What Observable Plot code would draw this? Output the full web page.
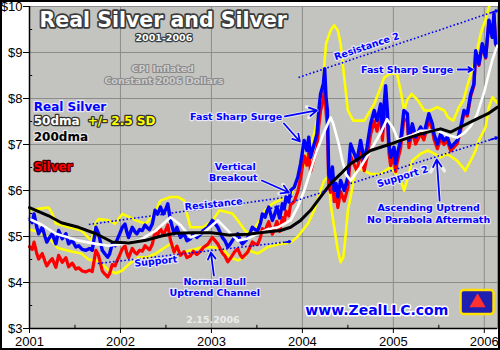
<!DOCTYPE html>
<html><head><meta charset="utf-8">
<script src="https://cdn.jsdelivr.net/npm/d3@7"></script>
<script src="https://cdn.jsdelivr.net/npm/@observablehq/plot@0.6"></script>
<style>
body{margin:0;background:#fff;}
#wrap{position:relative;width:500px;height:350px;overflow:hidden;}
#border{position:absolute;left:0;top:0;width:500px;height:350px;box-sizing:border-box;border:2px solid #000;pointer-events:none;}
</style></head><body>
<div id="wrap"><div id="chart"></div><div id="border"></div></div>
<script>
// ---- ticks ----
const years = [2001, 2002, 2003, 2004, 2005, 2006];
const midYears = [2001.5, 2002.5, 2003.5, 2004.5, 2005.5];
const dollars = [3, 4, 5, 6, 7, 8, 9, 10];
const halfDollars = [3.5, 4.5, 5.5, 6.5, 7.5, 8.5, 9.5];

// ---- daily-ish series (decimal years) ----
const dates = [2001.00,2001.03,2001.05,2001.08,2001.10,2001.14,2001.17,2001.19,2001.22,2001.25,2001.29,2001.32,2001.36,2001.40,2001.43,2001.47,2001.51,2001.54,2001.58,2001.62,2001.66,2001.69,2001.71,2001.73,2001.76,2001.80,2001.83,2001.86,2001.88,2001.91,2001.94,2001.96,2001.99,
2002.02,2002.05,2002.07,2002.09,2002.13,2002.16,2002.18,2002.21,2002.24,2002.27,2002.29,2002.32,2002.35,2002.38,2002.41,2002.44,2002.47,2002.50,2002.52,2002.55,2002.59,2002.62,2002.66,2002.70,2002.73,2002.77,2002.80,2002.84,2002.88,2002.91,2002.96,
2003.01,2003.04,2003.07,2003.12,2003.15,2003.18,2003.21,2003.23,2003.26,2003.29,2003.32,2003.34,2003.38,2003.40,2003.43,2003.45,2003.48,2003.51,2003.54,2003.56,2003.59,2003.61,2003.63,2003.67,2003.69,2003.72,2003.75,2003.78,2003.80,2003.82,2003.85,2003.87,2003.91,2003.95,2003.98,
2004.02,2004.05,2004.07,2004.09,2004.13,2004.16,2004.18,2004.20,2004.23,2004.245,2004.26,2004.275,2004.29,2004.31,2004.33,2004.35,2004.37,2004.39,2004.42,2004.46,2004.50,2004.53,2004.57,2004.60,2004.64,2004.68,2004.71,2004.75,2004.79,2004.82,2004.86,2004.88,2004.90,2004.915,2004.934,2004.952,2004.97,
2005.007,2005.025,2005.044,2005.08,2005.116,2005.154,2005.171,2005.209,2005.245,2005.30,2005.336,2005.391,2005.429,2005.446,2005.484,2005.52,2005.556,2005.593,2005.63,2005.666,2005.703,2005.74,2005.776,2005.813,2005.85,2005.886,2005.905,2005.941,2005.978,2006.015,2006.051,2006.088,2006.106,2006.124,2006.143];

const realSilver = [5.38,5.30,5.49,5.20,5.06,5.20,5.00,4.88,4.98,5.06,4.84,5.13,4.95,5.06,4.84,4.92,4.77,4.80,4.72,4.70,4.74,4.70,4.95,5.20,5.06,4.70,4.62,4.55,4.62,4.84,4.80,4.91,5.05,
5.20,5.27,5.10,4.98,5.20,5.10,5.06,5.15,5.13,5.25,5.20,5.15,5.27,5.57,5.49,5.64,5.49,5.60,5.71,5.35,5.06,5.20,4.98,5.06,4.91,4.95,5.06,4.98,5.05,5.13,5.20,
5.35,5.28,5.20,4.98,4.90,4.77,4.85,4.91,5.00,5.06,4.90,4.84,4.92,4.98,5.10,5.20,5.15,5.13,5.30,5.49,5.42,5.55,5.64,5.35,5.45,5.64,5.40,5.71,5.60,5.86,5.75,6.00,6.07,6.29,6.58,
7.09,6.87,7.16,6.72,7.01,7.23,7.74,8.10,8.32,8.65,8.03,7.74,6.36,6.22,6.51,6.00,6.15,5.86,6.22,6.00,6.29,7.01,6.80,6.65,7.09,6.65,6.94,7.45,7.74,7.52,7.88,7.30,7.90,8.28,7.74,7.01,6.72,
6.94,6.58,6.80,7.09,7.74,7.67,7.09,7.45,7.16,7.38,7.23,7.67,7.45,7.23,7.01,7.23,7.09,7.16,6.94,7.01,7.09,7.38,7.74,7.67,8.10,8.32,9.04,8.75,9.19,8.90,9.70,9.33,9.84,9.19,9.12];

const silver = [4.78,4.72,4.88,4.63,4.51,4.63,4.46,4.36,4.45,4.52,4.33,4.59,4.44,4.54,4.34,4.42,4.29,4.32,4.25,4.23,4.27,4.24,4.47,4.70,4.58,4.25,4.18,4.12,4.19,4.39,4.36,4.46,4.59,
4.73,4.80,4.64,4.54,4.74,4.65,4.62,4.70,4.68,4.80,4.76,4.71,4.83,5.11,5.04,5.17,5.04,5.15,5.25,4.92,4.66,4.79,4.59,4.67,4.54,4.58,4.68,4.61,4.68,4.76,4.83,
4.98,4.91,4.84,4.64,4.57,4.45,4.53,4.59,4.68,4.73,4.59,4.54,4.62,4.67,4.79,4.88,4.84,4.83,4.99,5.17,5.11,5.23,5.32,5.05,5.15,5.33,5.11,5.41,5.30,5.55,5.45,5.69,5.76,5.98,6.26,
6.75,6.55,6.83,6.41,6.70,6.91,7.40,7.74,7.96,8.28,7.69,7.41,6.10,5.96,6.25,5.76,5.91,5.63,5.98,5.77,6.06,6.75,6.56,6.42,6.85,6.43,6.72,7.22,7.51,7.29,7.65,7.09,7.68,8.05,7.53,6.82,6.54,
6.76,6.41,6.63,6.92,7.56,7.50,6.93,7.29,7.01,7.24,7.10,7.54,7.33,7.12,6.91,7.13,7.00,7.08,6.86,6.94,7.02,7.31,7.68,7.62,8.05,8.28,9.00,8.72,9.16,8.88,9.69,9.33,9.84,9.19,9.12];

// ---- 50-day moving average of Real Silver ----
const ma50Dates = [2001.00,2001.14,2001.29,2001.43,2001.54,2001.73,2001.87,2002.02,2002.20,2002.39,2002.55,2002.66,2002.77,2002.92,2003.07,2003.17,2003.29,2003.39,2003.51,2003.61,2003.73,2003.87,2003.95,2004.02,2004.09,2004.16,2004.23,2004.31,2004.34,2004.40,2004.44,2004.48,2004.53,2004.64,2004.75,2004.86,2004.93,2005.00,2005.05,2005.20,2005.30,2005.49,2005.60,2005.70,2005.78,2005.85,2005.92,2006.00,2006.05,2006.09,2006.143];
const ma50 = [5.38,5.25,5.06,4.98,4.91,4.84,4.80,4.84,4.91,5.13,5.42,5.25,4.98,5.10,5.35,5.15,4.91,4.95,5.06,5.15,5.20,5.35,5.65,6.00,6.43,6.87,7.23,7.59,7.45,7.01,6.65,6.35,6.22,6.51,6.87,7.25,7.55,7.35,7.10,7.20,7.30,7.30,7.20,7.15,7.25,7.40,7.65,8.15,8.55,8.85,9.15];

// ---- 200-day moving average ----
const ma200Dates = [2001.00,2001.21,2001.35,2001.54,2001.73,2001.91,2002.09,2002.28,2002.45,2002.60,2002.80,2003.00,2003.20,2003.40,2003.60,2003.76,2003.87,2003.98,2004.09,2004.20,2004.31,2004.42,2004.53,2004.64,2004.75,2004.86,2004.97,2005.08,2005.30,2005.52,2005.63,2005.74,2005.88,2006.04,2006.143];
const ma200 = [5.63,5.45,5.30,5.20,5.06,4.88,4.86,4.92,5.01,5.07,5.08,5.08,5.03,5.05,5.10,5.13,5.20,5.35,5.57,5.86,6.15,6.36,6.58,6.72,6.87,6.94,7.01,7.09,7.23,7.34,7.27,7.38,7.52,7.67,7.81];

// ---- 50dma +/- 2.5 SD bands ----
const bandHiDates = [2001.00,2001.10,2001.21,2001.25,2001.29,2001.43,2001.57,2001.68,2001.725,2001.76,2001.87,2001.94,2002.02,2002.10,2002.17,2002.28,2002.37,2002.44,2002.55,2002.63,2002.70,2002.74,2002.77,2002.91,2003.01,2003.09,2003.23,2003.29,2003.37,2003.43,2003.51,2003.59,2003.67,2003.74,2003.87,2003.98,2004.06,2004.13,2004.18,2004.23,2004.26,2004.31,2004.35,2004.39,2004.42,2004.46,2004.50,2004.56,2004.62,2004.68,2004.79,2004.86,2004.90,2004.97,2005.04,2005.08,2005.12,2005.15,2005.20,2005.27,2005.34,2005.41,2005.48,2005.56,2005.60,2005.66,2005.72,2005.77,2005.82,2005.88,2005.92,2005.96,2006.01,2006.05,2006.09,2006.143];
const bandHi = [5.57,5.60,5.63,5.50,5.28,5.20,5.13,4.91,5.28,5.38,5.35,5.28,5.49,5.42,5.35,5.28,5.49,5.78,5.86,5.86,5.78,5.42,5.20,5.20,5.35,5.57,5.50,5.35,5.13,5.06,5.28,5.57,5.71,5.78,5.90,6.36,6.80,7.23,7.74,8.46,9.19,9.48,9.59,9.48,9.19,8.46,7.74,7.52,7.52,7.52,7.88,8.24,8.46,8.54,8.54,8.17,7.74,7.96,8.10,7.96,7.74,7.74,7.81,7.74,7.59,7.52,7.81,7.96,8.32,8.68,9.04,9.41,9.70,9.98,10.20,10.10];
const bandLoDates = [2001.00,2001.10,2001.21,2001.31,2001.45,2001.57,2001.65,2001.73,2001.80,2001.88,2001.95,2002.02,2002.10,2002.20,2002.30,2002.39,2002.44,2002.55,2002.66,2002.77,2002.91,2003.02,2003.13,2003.21,2003.29,2003.36,2003.40,2003.51,2003.62,2003.76,2003.87,2003.95,2004.06,2004.13,2004.20,2004.24,2004.28,2004.295,2004.31,2004.35,2004.39,2004.42,2004.45,2004.47,2004.50,2004.53,2004.57,2004.60,2004.68,2004.75,2004.86,2004.97,2005.08,2005.12,2005.17,2005.21,2005.30,2005.38,2005.45,2005.52,2005.59,2005.70,2005.76,2005.79,2005.85,2005.905,2005.94,2006.015,2006.05,2006.09,2006.12,2006.143];
const bandLo = [5.15,5.10,4.98,4.75,4.68,4.63,4.50,4.48,4.40,4.25,4.20,4.26,4.41,4.55,4.55,4.63,4.70,4.84,4.63,4.70,4.77,4.77,4.70,4.55,4.48,4.55,4.70,4.63,4.77,4.84,4.87,5.00,5.28,5.57,6.00,6.22,6.29,6.15,5.71,5.20,4.70,4.44,4.55,4.91,5.57,5.86,6.29,6.51,6.43,6.36,6.36,6.51,6.22,6.00,6.36,6.65,6.80,6.87,6.80,6.72,6.80,6.65,6.51,6.43,6.65,6.87,7.09,7.38,7.81,8.03,7.96,7.90];

// ---- texts ----
const titleText = [{text: "Real Silver and Silver", x: 2002.47, y: 9.70}];
const subTitle = [{text: "2001-2006", x: 2002.477, y: 9.315}];
const cpiText = [{text: "CPI Inflated", x: 2002.465, y: 8.64}, {text: "Constant 2006 Dollars", x: 2002.477, y: 8.385}];
const legendBlue = [{text: "Real Silver", x: 2001.047, y: 7.81}];
const legendWhite = [{text: "50dma", x: 2001.047, y: 7.50}];
const legendYellow = [{text: "+/- 2.5 SD", x: 2001.64, y: 7.50}];
const legendBlack = [{text: "200dma", x: 2001.047, y: 7.16}];
const legendRed = [{text: "Silver", x: 2001.047, y: 6.507}];
const notes = [
  {text: "Fast Sharp Surge", x: 2003.272, y: 7.609, rotate: 0},
  {text: "Vertical", x: 2003.262, y: 6.522, rotate: 0},
  {text: "Breakout", x: 2003.24, y: 6.272, rotate: 0},
  {text: "Resistance", x: 2003.025, y: 5.70, rotate: -6},
  {text: "Support", x: 2002.389, y: 4.457, rotate: -6},
  {text: "Normal Bull", x: 2003.036, y: 4.022, rotate: 0},
  {text: "Uptrend Channel", x: 2003.036, y: 3.772, rotate: 0},
  {text: "Resistance 2", x: 2004.709, y: 9.13, rotate: -18.6},
  {text: "Fast Sharp Surge", x: 2005.151, y: 8.63, rotate: 0},
  {text: "Support 2", x: 2005.102, y: 6.304, rotate: -17},
  {text: "Ascending Uptrend", x: 2005.388, y: 5.62, rotate: 0},
  {text: "No Parabola Aftermath", x: 2005.388, y: 5.37, rotate: 0}
];
const urlText = [{text: "www.ZealLLC.com", x: 2004.818, y: 3.391}];
const dateText = [{text: "2.15.2006", x: 2003.016, y: 3.196}];

const arrows = [
  {x1: 2003.809, y1: 7.609, x2: 2004.159, y2: 7.74},
  {x1: 2003.797, y1: 7.457, x2: 2003.973, y2: 7.065},
  {x1: 2003.555, y1: 6.217, x2: 2003.851, y2: 5.957},
  {x1: 2003.027, y1: 4.152, x2: 2002.994, y2: 4.652},
  {x1: 2005.707, y1: 8.63, x2: 2005.872, y2: 8.63},
  {x1: 2005.509, y1: 5.783, x2: 2005.477, y2: 6.674}
];
const trendLines = [
  {name: "Resistance", x1: 2001.652, y1: 5.261, x2: 2003.883, y2: 5.87},
  {name: "Support", x1: 2001.751, y1: 4.413, x2: 2003.871, y2: 4.891},
  {name: "Resistance 2", x1: 2003.958, y1: 8.457, x2: 2006.145, y2: 9.913},
  {name: "Support 2", x1: 2003.652, y1: 5.609, x2: 2006.145, y2: 7.152}
];
const logo = [{x1: 2005.744, x2: 2006.107, y1: 3.304, y2: 3.826}];

// ---- styling helpers ----
const BLUE = "#0000ff", RED = "#ff0000", YELLOW = "#ffff00";
const FONT = "DejaVu Sans, Verdana, sans-serif";
const series = (xs, ys, stroke, w, extra = {}) =>
  Plot.line(ys, {x: xs, y: ys, stroke, strokeWidth: w, strokeLinejoin: "round", strokeLinecap: "round", ...extra});
const txt = (data, o) => Plot.text(data, {x: "x", y: "y", text: "text", fontFamily: FONT, fontWeight: "bold",
  paintOrder: "stroke", strokeLinejoin: "round", ...o});
const tail = (d, f) => ({x1: d.x1 + (d.x2 - d.x1) * f, y1: d.y1 + (d.y2 - d.y1) * f, x2: d.x2, y2: d.y2});

const chart = Plot.plot({
  width: 500, height: 350,
  marginLeft: 29, marginRight: 3, marginTop: 6, marginBottom: 22,
  x: {domain: [2001, 2006.145]},
  y: {domain: [3, 10]},
  style: {background: "white", fontFamily: "Liberation Sans, Arial, sans-serif", fontSize: "13px", color: "black"},
  marks: [
    Plot.frame({fill: "#c3c3bf", stroke: "#8c8c8c"}),
    Plot.ruleX(years.slice(1), {stroke: "#8c8c8c", strokeWidth: 1}),
    Plot.ruleY(dollars, {stroke: "#8c8c8c", strokeWidth: 1}),
    // lines
    series(bandHiDates, bandHi, YELLOW, 2.6, {clip: true}),
    series(bandLoDates, bandLo, YELLOW, 2.6, {clip: true}),
    series(dates, silver, RED, 3.2),
    series(dates, realSilver, BLUE, 3.4),
    series(ma50Dates, ma50, "white", 2.6),
    series(ma200Dates, ma200, "black", 3),
    // trend lines
    Plot.link(trendLines, {x1: "x1", y1: "y1", x2: "x2", y2: "y2", stroke: BLUE, strokeWidth: 1.6, strokeDasharray: "1.6,2.2"}),
    Plot.arrow(trendLines.map(d => tail(d, 0.97)), {x1: "x1", y1: "y1", x2: "x2", y2: "y2", stroke: BLUE, strokeWidth: 1.6, headLength: 6}),
    Plot.arrow(arrows, {x1: "x1", y1: "y1", x2: "x2", y2: "y2", stroke: "white", strokeWidth: 3.5, headLength: 7, strokeOpacity: 0.7}),
    Plot.arrow(arrows, {x1: "x1", y1: "y1", x2: "x2", y2: "y2", stroke: BLUE, strokeWidth: 1.8, headLength: 7}),
    // titles
    txt(titleText, {fontSize: 20.5, fill: "white", stroke: "#3a3a3a", strokeWidth: 3.4}),
    txt(subTitle, {fontSize: 9.5, fill: "white", stroke: "#3a3a3a", strokeWidth: 2.4}),
    txt(cpiText, {fontSize: 9.5, fill: "#cfcfcf", stroke: "#8a8a8a", strokeWidth: 2.2}),
    // legend
    txt(legendBlue, {fontSize: 12, textAnchor: "start", fill: BLUE, stroke: "#e6e6f5", strokeWidth: 2.5}),
    txt(legendWhite, {fontSize: 12, textAnchor: "start", fill: "white", stroke: "#333", strokeWidth: 2.5}),
    txt(legendYellow, {fontSize: 12, textAnchor: "start", fill: YELLOW, stroke: "#333", strokeWidth: 2.5}),
    txt(legendBlack, {fontSize: 12, textAnchor: "start", fill: "black", stroke: "#e6e6e6", strokeWidth: 2.5}),
    txt(legendRed, {fontSize: 12, textAnchor: "start", fill: RED, stroke: "#3a0000", strokeWidth: 2.5}),
    // annotations
    txt(notes, {fontSize: 9.5, rotate: "rotate", fill: BLUE, stroke: "#e8e8fa", strokeWidth: 2.4}),
    txt(urlText, {fontSize: 14, fill: BLUE, stroke: "white", strokeWidth: 3}),
    txt(dateText, {fontSize: 9.5, fill: "#ececec"}),
    // logo
    Plot.rect(logo, {x1: "x1", x2: "x2", y1: "y1", y2: "y2", fill: "#2020b0", stroke: "#ffe000", strokeWidth: 2.5, rx: 3}),
    Plot.dot(logo, {x: d => (d.x1 + d.x2) / 2, y: d => (d.y1 + d.y2) / 2, r: 6, fill: "#ff3030", symbol: "triangle"}),
    // axes
    Plot.ruleX([2001], {stroke: "black", strokeWidth: 1.5}),
    Plot.ruleY([3], {stroke: "black", strokeWidth: 1.5}),
    Plot.ruleX(midYears, {y1: 3, y2: 3.07, stroke: "black"}),
    Plot.ruleY(halfDollars, {x1: 2001, x2: 2001.035, stroke: "black"}),
    Plot.axisY(dollars, {tickSize: 6, tickPadding: 1, tickFormat: d => "$" + d, fontSize: 13}),
    Plot.axisX(years, {tickSize: 5, tickPadding: 3, tickFormat: d => String(d), fontSize: 13})
  ]
});
document.getElementById("chart").appendChild(chart);
</script></body></html>
